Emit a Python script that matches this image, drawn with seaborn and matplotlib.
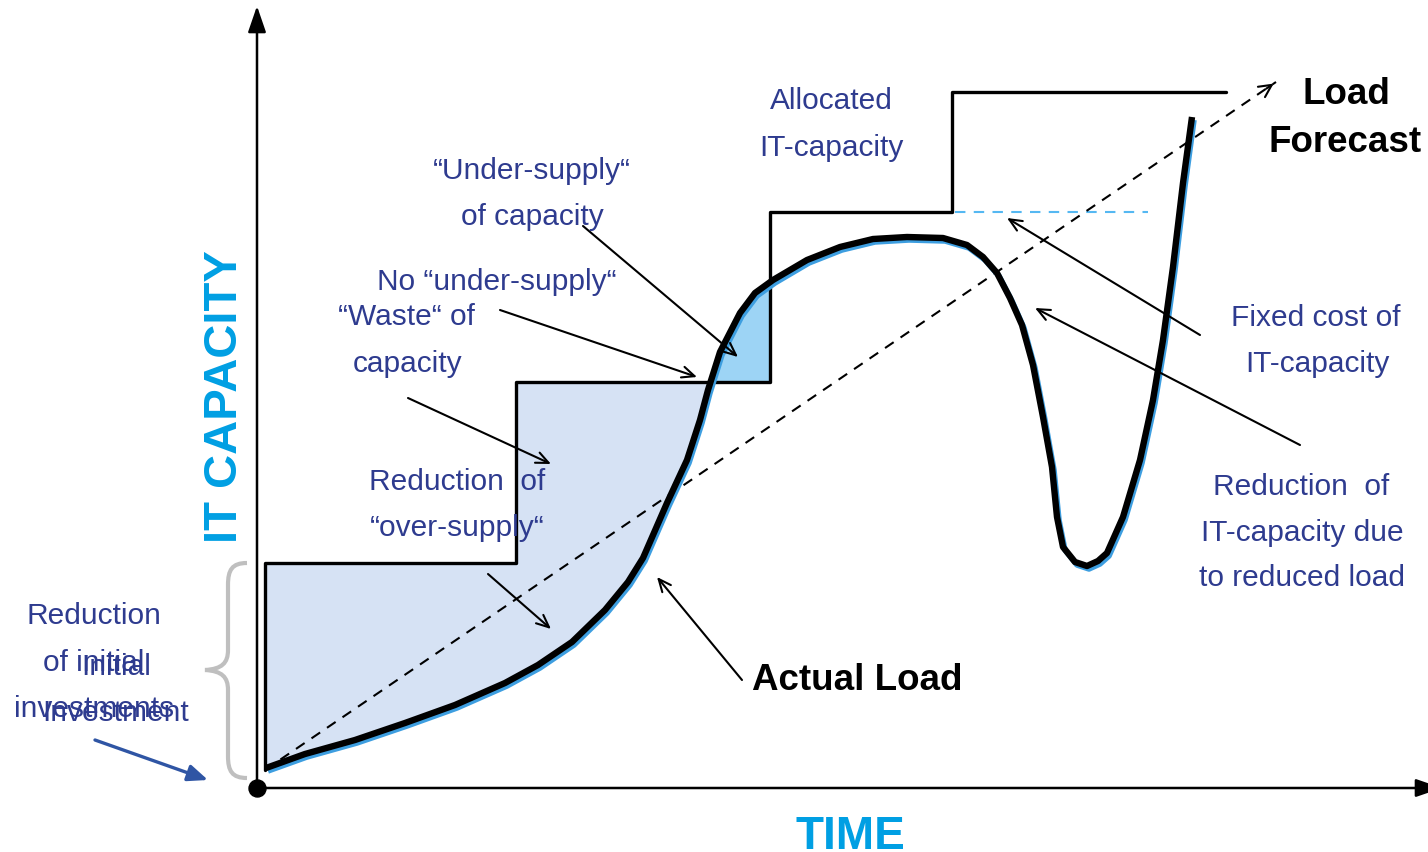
import numpy as np
import matplotlib.pyplot as plt
import matplotlib.transforms as mtransforms
from matplotlib.path import Path
from matplotlib.patches import PathPatch
import seaborn as sns

sns.set_style("white")
plt.rcParams["font.family"] = ["Liberation Sans", "DejaVu Sans"]

# actual load over time (time units, capacity units)
load_time = [9, 48, 98, 148, 198, 248, 281, 315, 348, 371, 386, 410, 430, 443, 451, 463,
             483, 498, 516, 550, 583, 616, 650, 686, 710, 726, 740, 753, 765, 776, 786,
             795, 800, 806, 818, 830, 841, 850, 866, 883, 896, 906, 916, 926, 935]
load_cap = [20, 34, 48, 65, 83, 105, 123, 146, 178, 206, 230, 285, 328, 368, 398, 436,
            475, 495, 508, 528, 541, 549, 551, 550, 543, 531, 515, 490, 463, 423, 371,
            321, 271, 241, 226, 222, 227, 235, 271, 328, 388, 448, 521, 605, 671]

# allocated IT-capacity (step function)
alloc_time = [8, 8, 259, 513, 695, 969]
alloc_cap = [18, 225, 406, 576, 696, 696]

# load forecast (dashed trend)
forecast_time = [8, 1019]
forecast_cap = [18, 706]

# fixed cost level after reduction
fixed_time = [698, 891]
fixed_cap = [576, 576]

NAVY = "#2e3b8f"
BLUE = "#009fe3"

fig = plt.figure(figsize=(14.28, 8.52), dpi=100)
ax = fig.add_axes([0, 0, 1, 1])
ax.set_xlim(-257, 1171)
ax.set_ylim(-64, 788)
ax.axis("off")


def P(x, y):
    # layout helper: picture pixel -> axes coords
    return (x - 257, 788 - y)


# shaded areas between allocation and load
t_grid = np.linspace(load_time[0], alloc_time[3], 800)
load_grid = np.interp(t_grid, load_time, load_cap)
step_grid = np.where(t_grid < alloc_time[2], alloc_cap[1], alloc_cap[2])
ax.fill_between(t_grid, load_grid, step_grid, where=load_grid <= step_grid,
                interpolate=True, color="#d6e2f4", lw=0, zorder=1)
ax.fill_between(t_grid, load_grid, step_grid, where=load_grid > step_grid,
                interpolate=True, color="#9dd4f5", lw=0, zorder=1)

# allocated capacity steps
sns.lineplot(x=alloc_time, y=alloc_cap, sort=False, estimator=None, ax=ax,
             color="black", lw=2.4, drawstyle="steps-post", zorder=3)

# fixed cost dashed level
sns.lineplot(x=fixed_time, y=fixed_cap, sort=False, estimator=None, ax=ax,
             color="#55b8f2", lw=1.5, zorder=2)
ax.lines[-1].set_linestyle((0, (5, 4)))

# forecast dashed line
sns.lineplot(x=forecast_time, y=forecast_cap, sort=False, estimator=None, ax=ax,
             color="black", lw=1.5, zorder=4)
ax.lines[-1].set_linestyle((0, (5, 4)))
ax.annotate("", xy=(forecast_time[1], forecast_cap[1]),
            xytext=(forecast_time[1] - 12, forecast_cap[1] - 8.2),
            arrowprops=dict(arrowstyle="->,head_length=0.9,head_width=0.45",
                            color="black", lw=1.5), zorder=4)

# actual load: blue shadow + black line
shift = mtransforms.ScaledTranslation(2 / 100, -3 / 100, fig.dpi_scale_trans)
sns.lineplot(x=load_time, y=load_cap, sort=False, estimator=None, ax=ax,
             color="#3d9ee0", lw=4.0, transform=ax.transData + shift, zorder=5)
sns.lineplot(x=load_time, y=load_cap, sort=False, estimator=None, ax=ax,
             color="black", lw=4.6, zorder=6)
for ln in ax.lines[-2:]:
    ln.set_solid_joinstyle("round")
    ln.set_solid_capstyle("butt")

# axes arrows and origin
ax.annotate("", xy=P(257, 6), xytext=P(257, 788), annotation_clip=False,
            arrowprops=dict(arrowstyle="-|>,head_length=1.6,head_width=0.55",
                            color="black", lw=1.8, shrinkA=0, shrinkB=0), zorder=7)
ax.annotate("", xy=P(1442, 788), xytext=P(257, 788), annotation_clip=False,
            arrowprops=dict(arrowstyle="-|>,head_length=1.6,head_width=0.55",
                            color="black", lw=1.8, shrinkA=0, shrinkB=0), zorder=7)
sns.scatterplot(x=[0], y=[0], ax=ax, color="black", s=150, edgecolor="black", zorder=8)

# brace for initial investment
brace = [P(247, 563), P(232, 563), P(228, 570), P(228, 585),
         P(228, 650),
         P(228, 663), P(222, 669), P(205, 670),
         P(222, 671), P(228, 677), P(228, 690),
         P(228, 756),
         P(228, 771), P(232, 778), P(247, 778)]
codes = [Path.MOVETO, Path.CURVE4, Path.CURVE4, Path.CURVE4, Path.LINETO,
         Path.CURVE4, Path.CURVE4, Path.CURVE4, Path.CURVE4, Path.CURVE4, Path.CURVE4,
         Path.LINETO, Path.CURVE4, Path.CURVE4, Path.CURVE4]
ax.add_patch(PathPatch(Path(brace, codes), fill=False, edgecolor="#bfbfbf", lw=3))

# annotation arrows
arrows = [((583, 226), (738, 357)), ((500, 310), (697, 377)), ((408, 398), (551, 464)),
          ((488, 574), (551, 629)), ((742, 680), (657, 577)), ((1200, 335), (1007, 218)),
          ((1300, 445), (1035, 308))]
for start, end in arrows:
    ax.annotate("", xy=P(*end), xytext=P(*start),
                arrowprops=dict(arrowstyle="->,head_length=0.9,head_width=0.4",
                                color="black", lw=1.5, shrinkA=0, shrinkB=0), zorder=7)
ax.annotate("", xy=P(208, 780), xytext=P(95, 740),
            arrowprops=dict(arrowstyle="-|>,head_length=1.2,head_width=0.5",
                            color="#2f55a4", lw=2.4, shrinkA=0, shrinkB=0), zorder=7)

# labels
labels = [("Allocated", 831, 98), ("IT-capacity", 831, 145),
          ("\u201cUnder-supply\u201c", 532, 168), ("of capacity", 532, 214),
          ("No \u201cunder-supply\u201c", 497, 279),
          ("\u201cWaste\u201c of", 406, 314), ("capacity", 408, 361),
          ("Reduction  of", 457, 479), ("\u201cover-supply\u201c", 457, 525),
          ("Fixed cost of", 1316, 315), ("IT-capacity", 1317, 361),
          ("Reduction  of", 1301, 484), ("IT-capacity due", 1302, 530),
          ("to reduced load", 1302, 575),
          ("Reduction", 94, 613), ("of initial", 94, 660), ("investments", 94, 706),
          ("Initial", 116, 664), ("Investment", 116, 710)]
for txt, x, y in labels:
    ax.text(*P(x, y + 3), txt, ha="center", va="center", fontsize=21.5, color=NAVY, zorder=9)

ax.text(*P(752, 681), "Actual Load", ha="left", va="center", fontsize=26.5,
        fontweight="bold", color="black", zorder=9)
ax.text(*P(1346, 95), "Load", ha="center", va="center", fontsize=26.5,
        fontweight="bold", color="black", zorder=9)
ax.text(*P(1345, 142), "Forecast", ha="center", va="center", fontsize=26.5,
        fontweight="bold", color="black", zorder=9)
ax.text(*P(225, 397), "IT CAPACITY", ha="center", va="center", rotation=90,
        fontsize=34, fontweight="bold", color=BLUE, zorder=9)
ax.text(*P(850, 837), "TIME", ha="center", va="center", fontsize=33,
        fontweight="bold", color=BLUE, zorder=9)

fig.savefig("out.png", dpi=100)
